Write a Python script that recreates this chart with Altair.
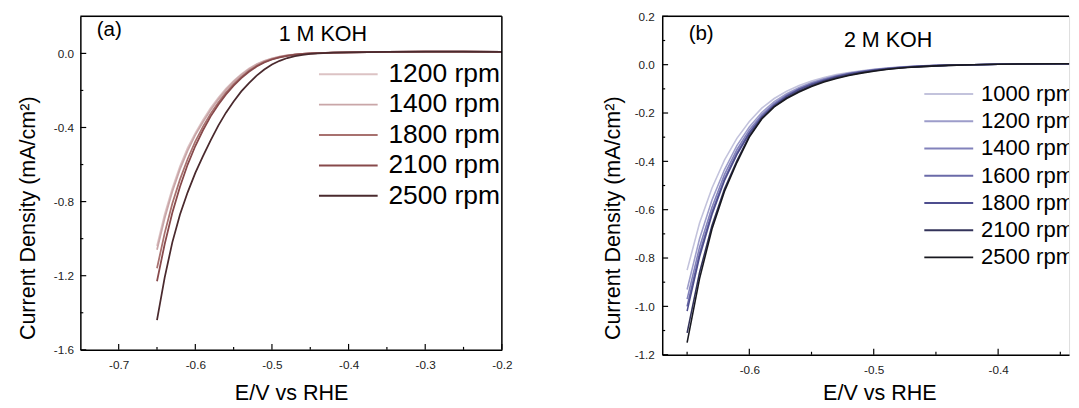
import altair as alt
import pandas as pd

FONT = "Liberation Sans"

# ---------------- panel (a): 1 M KOH ----------------
E_a = [-0.65, -0.64, -0.63, -0.62, -0.61, -0.60, -0.59, -0.58, -0.57, -0.56, -0.55,
       -0.54, -0.53, -0.52, -0.51, -0.50, -0.49, -0.48, -0.47, -0.46, -0.45, -0.44,
       -0.42, -0.40, -0.35, -0.30, -0.25, -0.20]
series_a = ["1200 rpm", "1400 rpm", "1800 rpm", "2100 rpm", "2500 rpm"]
J_a_1200 = [-1.04, -0.87, -0.73, -0.61, -0.51, -0.43, -0.36, -0.295, -0.24, -0.19, -0.148,
            -0.112, -0.082, -0.058, -0.04, -0.027, -0.017, -0.01, -0.005, -0.002, 0.0, 0.002,
            0.004, 0.006, 0.008, 0.009, 0.009, 0.008]
J_a_1400 = [-1.06, -0.89, -0.745, -0.625, -0.525, -0.44, -0.37, -0.305, -0.248, -0.197, -0.153,
            -0.116, -0.085, -0.06, -0.042, -0.028, -0.018, -0.011, -0.006, -0.002, 0.0, 0.002,
            0.004, 0.006, 0.008, 0.009, 0.009, 0.008]
J_a_1800 = [-1.16, -0.97, -0.81, -0.68, -0.57, -0.475, -0.395, -0.325, -0.265, -0.212, -0.166,
            -0.127, -0.094, -0.067, -0.046, -0.031, -0.02, -0.012, -0.006, -0.003, 0.0, 0.002,
            0.004, 0.006, 0.008, 0.009, 0.009, 0.008]
J_a_2100 = [-1.23, -1.03, -0.86, -0.72, -0.60, -0.50, -0.415, -0.34, -0.277, -0.222, -0.174,
            -0.133, -0.099, -0.071, -0.049, -0.033, -0.021, -0.013, -0.007, -0.003, 0.0, 0.002,
            0.004, 0.006, 0.008, 0.009, 0.009, 0.008]
J_a_2500 = [-1.44, -1.21, -1.02, -0.87, -0.75, -0.645, -0.555, -0.47, -0.39, -0.32, -0.26,
            -0.205, -0.16, -0.12, -0.087, -0.06, -0.04, -0.025, -0.015, -0.008, -0.003, 0.0,
            0.004, 0.006, 0.008, 0.009, 0.009, 0.008]
curves_a = [J_a_1200, J_a_1400, J_a_1800, J_a_2100, J_a_2500]
xdom_a = [-0.75, -0.2]
ydom_a = [-1.6, 0.2]
xmajor_a = [-0.7, -0.6, -0.5, -0.4, -0.3, -0.2]
xminor_a = [-0.65, -0.55, -0.45, -0.35, -0.25]
ymajor_a = [0.0, -0.4, -0.8, -1.2, -1.6]
yminor_a = [-0.2, -0.6, -1.0, -1.4]
colors_a = ["#dcc3c4", "#c9a6a8", "#a8716f", "#87494b", "#4a2a2e"]

# ---------------- panel (b): 2 M KOH ----------------
E_b = [-0.65, -0.64, -0.63, -0.62, -0.61, -0.60, -0.59, -0.58, -0.57, -0.56, -0.55,
       -0.54, -0.53, -0.52, -0.51, -0.50, -0.49, -0.48, -0.47, -0.46, -0.45, -0.44,
       -0.42, -0.40, -0.35, -0.30]
series_b = ["1000 rpm", "1200 rpm", "1400 rpm", "1600 rpm", "1800 rpm", "2100 rpm", "2500 rpm"]
J_b_1000 = [-0.85, -0.655, -0.51, -0.395, -0.305, -0.235, -0.18, -0.14, -0.11, -0.086, -0.068,
            -0.053, -0.041, -0.032, -0.025, -0.019, -0.014, -0.01, -0.007, -0.005, -0.003, -0.002,
            0.0, 0.002, 0.004, 0.005]
J_b_1200 = [-0.93, -0.72, -0.56, -0.435, -0.335, -0.258, -0.198, -0.153, -0.12, -0.094, -0.074,
            -0.058, -0.045, -0.035, -0.027, -0.02, -0.015, -0.011, -0.008, -0.005, -0.003, -0.002,
            0.0, 0.002, 0.004, 0.005]
J_b_1400 = [-0.97, -0.755, -0.59, -0.455, -0.352, -0.27, -0.207, -0.16, -0.125, -0.098, -0.077,
            -0.06, -0.047, -0.037, -0.028, -0.021, -0.016, -0.012, -0.008, -0.006, -0.004, -0.002,
            0.0, 0.002, 0.004, 0.005]
J_b_1600 = [-1.0, -0.78, -0.61, -0.472, -0.365, -0.28, -0.214, -0.165, -0.129, -0.101, -0.08,
            -0.063, -0.049, -0.038, -0.029, -0.022, -0.017, -0.012, -0.009, -0.006, -0.004, -0.002,
            0.0, 0.002, 0.004, 0.005]
J_b_1800 = [-1.02, -0.795, -0.62, -0.48, -0.372, -0.285, -0.218, -0.168, -0.131, -0.103, -0.082,
            -0.065, -0.05, -0.039, -0.03, -0.023, -0.017, -0.013, -0.009, -0.006, -0.004, -0.002,
            0.0, 0.002, 0.004, 0.005]
J_b_2100 = [-1.11, -0.86, -0.665, -0.515, -0.398, -0.295, -0.222, -0.172, -0.137, -0.109, -0.087,
            -0.069, -0.054, -0.043, -0.033, -0.025, -0.019, -0.014, -0.01, -0.007, -0.005, -0.003,
            0.0, 0.002, 0.004, 0.005]
J_b_2500 = [-1.15, -0.885, -0.68, -0.525, -0.405, -0.30, -0.225, -0.175, -0.14, -0.113, -0.09,
            -0.072, -0.057, -0.045, -0.035, -0.027, -0.02, -0.015, -0.011, -0.008, -0.005, -0.003,
            0.0, 0.002, 0.004, 0.005]
curves_b = [J_b_1000, J_b_1200, J_b_1400, J_b_1600, J_b_1800, J_b_2100, J_b_2500]
xdom_b = [-0.67, -0.343]
ydom_b = [-1.2, 0.2]
xmajor_b = [-0.6, -0.5, -0.4]
xminor_b = [-0.65, -0.55, -0.45, -0.35]
ymajor_b = [0.2, 0.0, -0.2, -0.4, -0.6, -0.8, -1.0, -1.2]
yminor_b = [0.1, -0.1, -0.3, -0.5, -0.7, -0.9, -1.1]
colors_b = ["#c3c3dc", "#9d9dca", "#8282bb", "#6a6aa8", "#4e4e8e", "#33335a", "#18181f"]

LAB_EXPR = "replace(datum.label, '\u2212', '-')"


def build_panel(E, curves, names, colors, xdom, ydom, xmaj, xmin_, ymaj, ymin_,
                W, H, lw, tag, tag_pos, head, head_pos, leg, ytitle, xtitle, ylabpad):
    rows = []
    for name, vals in zip(names, curves):
        for e, j in zip(E, vals):
            rows.append({"E": e, "J": j, "series": name})
    df = pd.DataFrame(rows)
    sx = alt.Scale(domain=xdom, nice=False, zero=False)
    sy = alt.Scale(domain=ydom, nice=False, zero=False)
    cs = alt.Scale(domain=names, range=colors)

    xaxis = alt.Axis(values=xmaj, format=".1f", labelExpr=LAB_EXPR, ticks=False, tickSize=0,
                     grid=False, domainColor="black", domainWidth=1.5,
                     labelFont=FONT, labelFontSize=12, labelColor="#222",
                     labelPadding=19, labelBaseline="alphabetic", labelFlush=False,
                     title="E/V vs RHE", titleFont=FONT, titleFontSize=22,
                     titleFontWeight="normal", titleColor="black",
                     titleX=xtitle[0], titleY=xtitle[1], titleBaseline="alphabetic",
                     titleAlign="center")
    yaxis = alt.Axis(values=ymaj, format=".1f", labelExpr=LAB_EXPR, ticks=False, tickSize=0,
                     grid=False, domainColor="black", domainWidth=1.5,
                     labelFont=FONT, labelFontSize=12, labelColor="#222",
                     labelPadding=ylabpad, labelFlush=False,
                     title="Current Density (mA/cm\u00b2)", titleFont=FONT, titleFontSize=22,
                     titleFontWeight="normal", titleColor="black",
                     titleX=ytitle[0], titleY=ytitle[1], titleBaseline="alphabetic",
                     titleAlign="center", titleAngle=270)

    lines = alt.Chart(df).mark_line(strokeWidth=lw, clip=True).encode(
        x=alt.X("E:Q", scale=sx, axis=xaxis),
        y=alt.Y("J:Q", scale=sy, axis=yaxis),
        color=alt.Color("series:N", scale=cs, legend=None),
        detail="series:N",
    )

    def xt(vals, length):
        return alt.Chart(pd.DataFrame({"E": vals})).mark_rule(color="black", strokeWidth=1.2).encode(
            x=alt.X("E:Q", scale=sx, axis=xaxis), y=alt.value(H), y2=alt.value(H - length))

    def yt(vals, length):
        return alt.Chart(pd.DataFrame({"J": vals})).mark_rule(color="black", strokeWidth=1.2).encode(
            y=alt.Y("J:Q", scale=sy, axis=yaxis), x=alt.value(0), x2=alt.value(length))

    one = pd.DataFrame({"k": [0]})
    top = alt.Chart(one).mark_rule(color="black", strokeWidth=1.5).encode(
        x=alt.XDatum(xdom[0], scale=sx, axis=xaxis), x2=alt.X2Datum(xdom[1]),
        y=alt.YDatum(ydom[1], scale=sy, axis=yaxis))
    frame = [top]
    if xdom[1] == -0.2:
        right = alt.Chart(one).mark_rule(color="black", strokeWidth=1.5).encode(
            x=alt.XDatum(xdom[1], scale=sx, axis=xaxis),
            y=alt.YDatum(ydom[0], scale=sy, axis=yaxis), y2=alt.Y2Datum(ydom[1]))
        frame.append(right)

    main = alt.layer(lines, xt(xmaj, 6), xt(xmin_, 3), yt(ymaj, 6), yt(ymin_, 3), *frame)

    lx1, lx2, tx, ly0, ly1, fs = leg
    ldf = pd.DataFrame({"series": names})
    ly = alt.Y("series:N", sort=names,
               scale=alt.Scale(type="point", domain=names, range=[ly0, ly1], padding=0),
               axis=None)
    leg_lines = alt.Chart(ldf).mark_rule(strokeWidth=2).encode(
        x=alt.value(lx1), x2=alt.value(lx2), y=ly,
        color=alt.Color("series:N", scale=cs, legend=None))
    leg_text = alt.Chart(ldf).mark_text(align="left", baseline="middle", font=FONT,
                                        fontSize=fs, color="black", clip=True).encode(
        x=alt.value(tx), y=ly, text="series:N")
    legend = alt.layer(leg_lines, leg_text)

    tag_m = alt.Chart(one).mark_text(text=tag, align="left", baseline="alphabetic", font=FONT,
                                     fontSize=21, color="black").encode(
        x=alt.value(tag_pos[0]), y=alt.value(tag_pos[1]))
    head_m = alt.Chart(one).mark_text(text=head, align="center", baseline="alphabetic", font=FONT,
                                      fontSize=22, color="black").encode(
        x=alt.value(head_pos[0]), y=alt.value(head_pos[1]))

    return alt.layer(main, legend, tag_m, head_m).resolve_scale(y="independent").properties(
        width=W, height=H)


panel_a = build_panel(E_a, curves_a, series_a, colors_a, xdom_a, ydom_a,
                      xmajor_a, xminor_a, ymajor_a, yminor_a,
                      431, 341, 1.8, "(a)", (16.7, 20), "1 M KOH", (248, 25),
                      (244, 304, 315, 59.2, 183.5, 27), (-47, 206), (215.5, 50.5), 7)
panel_b = build_panel(E_b, curves_b, series_b, colors_b, xdom_b, ydom_b,
                      xmajor_b, xminor_b, ymajor_b, yminor_b,
                      416, 346, 1.6, "(b)", (27, 23.8), "2 M KOH", (231, 31.2),
                      (268, 318, 326, 79.5, 246.5, 22.5), (-44, 206), (222, 46), 8)

chart = alt.hconcat(panel_a, panel_b, spacing=164, bounds="flush").resolve_scale(
    color="independent", x="independent", y="independent"
).properties(
    padding={"left": 8, "top": -3, "right": 0, "bottom": 0}
).configure_view(stroke=None).configure(font=FONT, background="white")

chart.save("out.html", embed_options={"renderer": "svg", "actions": False})
